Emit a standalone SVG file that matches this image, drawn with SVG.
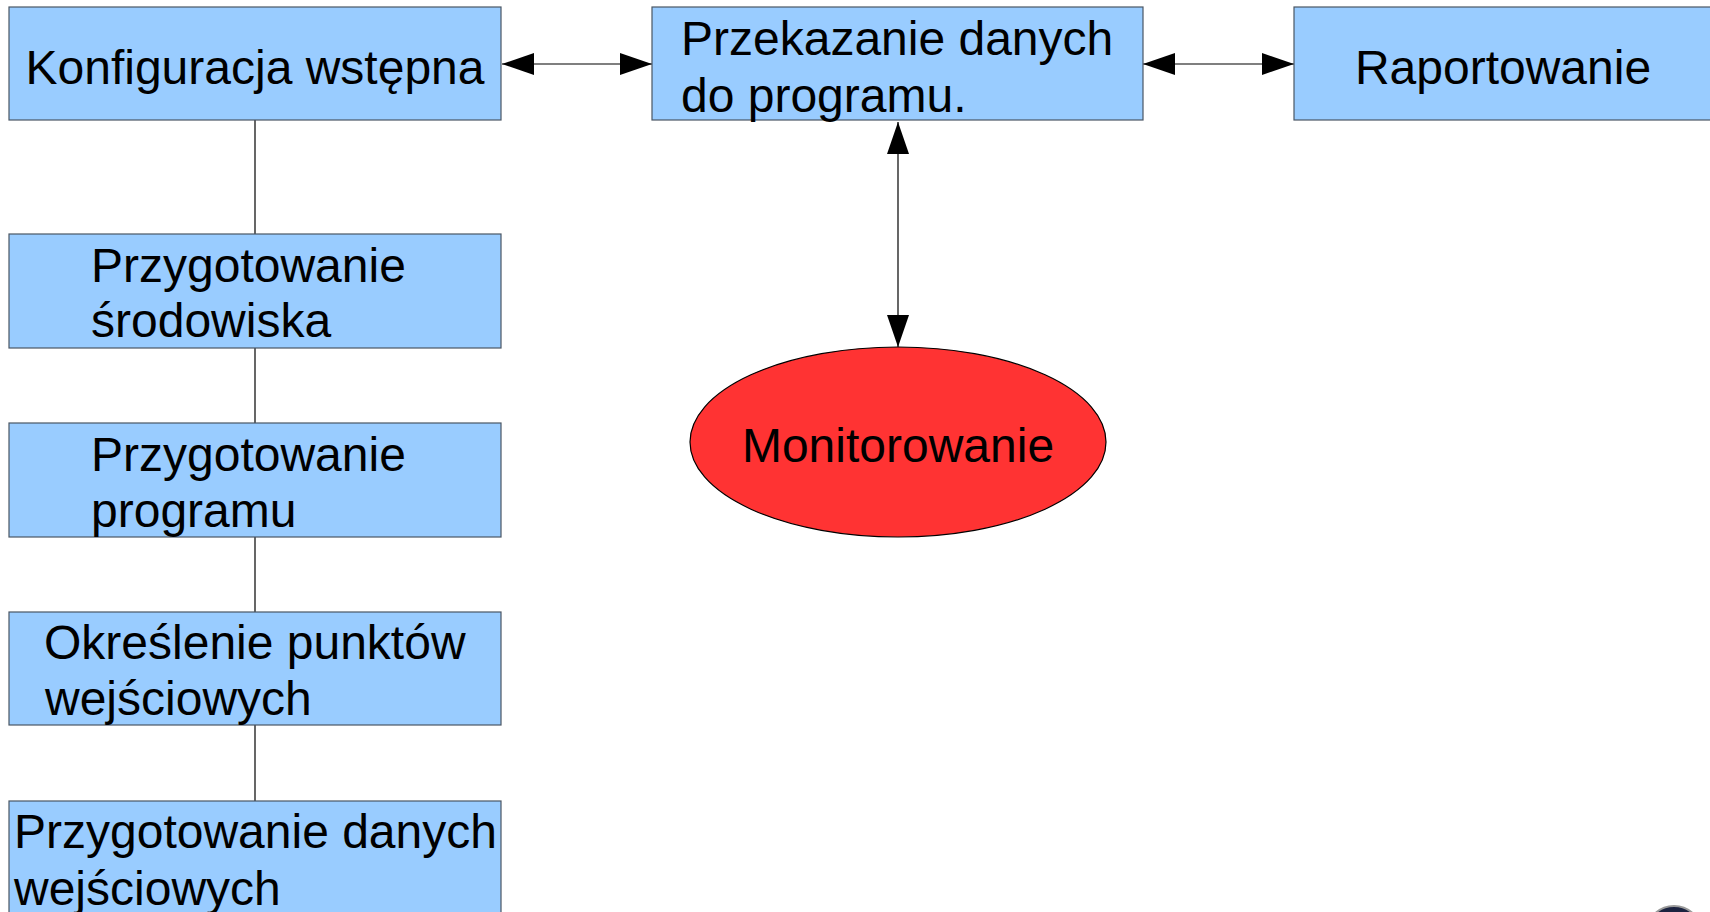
<svg xmlns="http://www.w3.org/2000/svg" width="1710" height="912" viewBox="0 0 1710 912">
<style>
.box{fill:#99ccff;stroke:#4a5664;stroke-width:1.2}
.t{font-family:"Liberation Sans",Arial,sans-serif;font-size:48px;fill:#000}
.c{stroke:#000;stroke-width:1.2;fill:none}
</style>
<defs>
<marker id="ah" markerUnits="userSpaceOnUse" markerWidth="34" markerHeight="24" refX="32" refY="11" orient="auto-start-reverse">
<path d="M0,0 L32,11 L0,22 Z" fill="#000"/>
</marker>
</defs>
<rect width="1710" height="912" fill="#fff"/>
<g id="connectors">
<line class="c" x1="255" y1="120" x2="255" y2="234"/>
<line class="c" x1="255" y1="348" x2="255" y2="423"/>
<line class="c" x1="255" y1="537" x2="255" y2="612"/>
<line class="c" x1="255" y1="725" x2="255" y2="801"/>
<line class="c" x1="502" y1="64" x2="652" y2="64" marker-start="url(#ah)" marker-end="url(#ah)"/>
<line class="c" x1="1143" y1="64" x2="1294" y2="64" marker-start="url(#ah)" marker-end="url(#ah)"/>
<line class="c" x1="898" y1="122" x2="898" y2="347" marker-start="url(#ah)" marker-end="url(#ah)"/>
</g>
<g id="konfiguracja">
<rect class="box" x="9" y="7" width="492" height="113"/>
<text class="t" x="255" y="84" text-anchor="middle">Konfiguracja wstępna</text>
</g>
<g id="przekazanie">
<rect class="box" x="652" y="7" width="491" height="113"/>
<text class="t" x="681" y="55">Przekazanie danych</text>
<text class="t" x="681" y="112">do programu.</text>
</g>
<g id="raportowanie">
<rect class="box" x="1294" y="7" width="491" height="113"/>
<text class="t" x="1503" y="84" text-anchor="middle">Raportowanie</text>
</g>
<g id="srodowisko">
<rect class="box" x="9" y="234" width="492" height="114"/>
<text class="t" x="91" y="282">Przygotowanie</text>
<text class="t" x="91" y="337">środowiska</text>
</g>
<g id="program">
<rect class="box" x="9" y="423" width="492" height="114"/>
<text class="t" x="91" y="471">Przygotowanie</text>
<text class="t" x="91" y="527">programu</text>
</g>
<g id="punkty">
<rect class="box" x="9" y="612" width="492" height="113"/>
<text class="t" x="44" y="659">Określenie punktów</text>
<text class="t" x="45" y="715">wejściowych</text>
</g>
<g id="dane">
<rect class="box" x="9" y="801" width="492" height="130"/>
<text class="t" x="14" y="848">Przygotowanie danych</text>
<text class="t" x="14" y="905">wejściowych</text>
</g>
<g id="monitorowanie">
<ellipse cx="898" cy="442" rx="208" ry="95" fill="#ff3333" stroke="#000" stroke-width="1.2"/>
<text class="t" x="898" y="462" text-anchor="middle">Monitorowanie</text>
</g>
<g id="corner">
<circle cx="1674" cy="934" r="28" fill="#1c2340" stroke="#9a9a9a" stroke-width="2"/>
</g>
</svg>
